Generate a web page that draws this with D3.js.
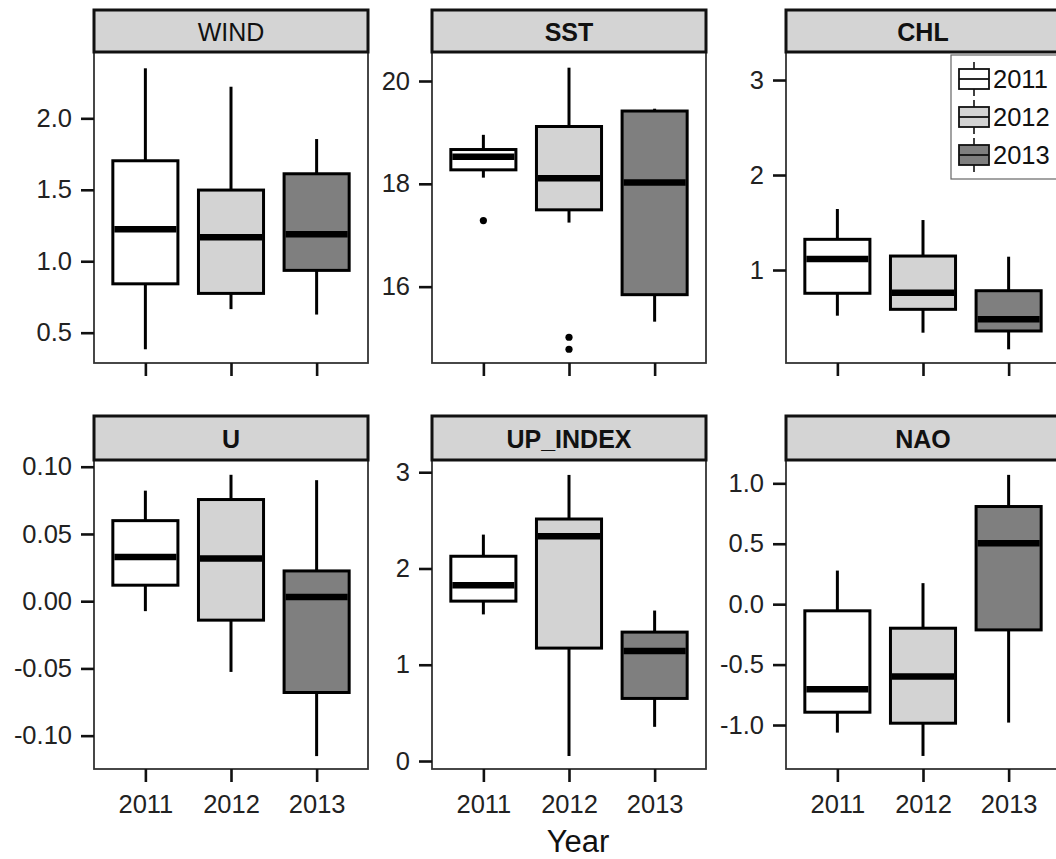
<!DOCTYPE html>
<html>
<head>
<meta charset="utf-8">
<script src="https://cdn.jsdelivr.net/npm/d3@7"></script>
<style>
  html, body { margin: 0; padding: 0; background: #fff; }
  svg { display: block; font-family: "Liberation Sans", Arial, sans-serif; }
</style>
</head>
<body>
<svg id="chart" width="1056" height="859"></svg>
<script>
// Years (groups) and variables (panels)
const years = ["2011", "2012", "2013"];
const variables = ["WIND", "SST", "CHL", "U", "UP_INDEX", "NAO"];

// Box statistics per year: [lower whisker, Q1, median, Q3, upper whisker]
const windStats = [[0.384, 0.842, 1.223, 1.703, 2.350], [0.665, 0.775, 1.167, 1.498, 2.221], [0.627, 0.936, 1.188, 1.612, 1.855]];
const sstStats  = [[18.12, 18.272, 18.525, 18.667, 18.953], [17.246, 17.494, 18.11, 19.115, 20.259], [15.319, 15.844, 18.025, 19.416, 19.461]];
const chlStats  = [[0.519, 0.755, 1.116, 1.323, 1.642], [0.340, 0.586, 0.761, 1.147, 1.526], [0.165, 0.358, 0.481, 0.782, 1.140]];
const uStats    = [[-0.0074, 0.0119, 0.0329, 0.0599, 0.0822], [-0.0526, -0.0141, 0.0317, 0.0756, 0.094], [-0.1152, -0.0679, 0.0032, 0.0225, 0.090]];
const upStats   = [[1.523, 1.661, 1.827, 2.127, 2.352], [0.052, 1.173, 2.334, 2.514, 2.972], [0.355, 0.650, 1.142, 1.339, 1.563]];
const naoStats  = [[-1.063, -0.894, -0.704, -0.055, 0.278], [-1.256, -0.985, -0.599, -0.199, 0.174], [-0.980, -0.213, 0.505, 0.808, 1.070]];

// Outlying points per year
const windOutliers = [[], [], []];
const sstOutliers  = [[17.286], [15.016, 14.782], []];
const chlOutliers  = [[], [], []];
const uOutliers    = [[], [], []];
const upOutliers   = [[], [], []];
const naoOutliers  = [[], [], []];

// Axis limits per panel
const windLimits = [0.288, 2.464];
const sstLimits  = [14.515, 20.564];
const chlLimits  = [0.021, 3.295];
const uLimits    = [-0.1248, 0.105];
const upLimits   = [-0.083, 3.127];
const naoLimits  = [-1.364, 1.193];

// Tick values per panel
const windTicks = [0.5, 1.0, 1.5, 2.0];
const sstTicks  = [16, 18, 20];
const chlTicks  = [1, 2, 3];
const uTicks    = [-0.10, -0.05, 0.00, 0.05, 0.10];
const upTicks   = [0, 1, 2, 3];
const naoTicks  = [-1.0, -0.5, 0.0, 0.5, 1.0];
const tickDecimals = [1, 0, 0, 2, 0, 1];

const statsList = [windStats, sstStats, chlStats, uStats, upStats, naoStats];
const outlierList = [windOutliers, sstOutliers, chlOutliers, uOutliers, upOutliers, naoOutliers];
const limitList = [windLimits, sstLimits, chlLimits, uLimits, upLimits, naoLimits];
const tickList = [windTicks, sstTicks, chlTicks, uTicks, upTicks, naoTicks];

const xAxisTitle = "Year";

// Layout
const svg = d3.select("#chart");
const colLeft = [94, 432, 786];
const panelW = 274;
const rows = [
  { stripTop: 10, top: 52, bottom: 363 },
  { stripTop: 416, top: 460, bottom: 769 }
];
const fill = d3.scaleOrdinal().domain(years).range(["#ffffff", "#d3d3d3", "#7f7f7f"]);
const boxUnits = 0.76;
const labelSize = 25.5;

variables.forEach((name, i) => {
  const col = i % 3, row = Math.floor(i / 3);
  const L = colLeft[col], R = L + panelW;
  const r = rows[row];
  const g = svg.append("g");

  const x = d3.scaleLinear().domain([0.4, years.length + 0.6]).range([L, R]);
  const y = d3.scaleLinear().domain(limitList[i]).range([r.bottom, r.top]);
  const dec = tickDecimals[i];

  // panel frame
  g.append("rect").attr("x", L).attr("y", r.top).attr("width", panelW).attr("height", r.bottom - r.top)
    .attr("fill", "#fff").attr("stroke", "#333").attr("stroke-width", 1.8);

  // strip
  g.append("rect").attr("x", L).attr("y", r.stripTop).attr("width", panelW).attr("height", r.top - r.stripTop)
    .attr("fill", "#d4d4d4").attr("stroke", "#111").attr("stroke-width", 3);
  g.append("text").attr("x", (L + R) / 2).attr("y", (r.stripTop + r.top) / 2 + 10)
    .attr("text-anchor", "middle").attr("font-size", 25)
    .attr("font-weight", i === 0 ? "normal" : "bold").attr("fill", "#111").text(name);

  // y axis
  const yAxis = d3.axisLeft(y).tickValues(tickList[i]).tickSize(13).tickPadding(9)
    .tickFormat(v => v.toFixed(dec));
  const ya = g.append("g").attr("transform", `translate(${L},0)`).call(yAxis);
  ya.select(".domain").remove();
  ya.selectAll(".tick line").attr("stroke", "#111").attr("stroke-width", 2.6);
  ya.selectAll(".tick text").attr("font-size", labelSize).attr("fill", "#222")
    .attr("font-family", "Liberation Sans, Arial, sans-serif");

  // x axis
  const xAxis = d3.axisBottom(x).tickValues(years.map((d, k) => k + 1)).tickSize(13).tickPadding(13)
    .tickFormat(v => row === 1 ? years[v - 1] : "");
  const xa = g.append("g").attr("transform", `translate(0,${r.bottom})`).call(xAxis);
  xa.select(".domain").remove();
  xa.selectAll(".tick line").attr("stroke", "#111").attr("stroke-width", 2.6);
  xa.selectAll(".tick text").attr("font-size", labelSize).attr("fill", "#222")
    .attr("font-family", "Liberation Sans, Arial, sans-serif");

  // boxes
  const halfW = (x(1 + boxUnits / 2) - x(1 - boxUnits / 2)) / 2;
  statsList[i].forEach((s, k) => {
    const cx = x(k + 1);
    const [lo, q1, med, q3, hi] = s;
    const bg = g.append("g");
    bg.append("line").attr("x1", cx).attr("x2", cx).attr("y1", y(hi)).attr("y2", y(q3))
      .attr("stroke", "#000").attr("stroke-width", 3);
    bg.append("line").attr("x1", cx).attr("x2", cx).attr("y1", y(q1)).attr("y2", y(lo))
      .attr("stroke", "#000").attr("stroke-width", 3);
    bg.append("rect").attr("x", cx - halfW).attr("y", y(q3)).attr("width", 2 * halfW)
      .attr("height", y(q1) - y(q3)).attr("fill", fill(years[k])).attr("stroke", "#000").attr("stroke-width", 3);
    bg.append("line").attr("x1", cx - halfW + 1.5).attr("x2", cx + halfW - 1.5).attr("y1", y(med)).attr("y2", y(med))
      .attr("stroke", "#000").attr("stroke-width", 6.5);
    outlierList[i][k].forEach(v => {
      bg.append("circle").attr("cx", cx).attr("cy", y(v)).attr("r", 3.6).attr("fill", "#000");
    });
  });

  // legend inside the CHL panel
  if (name === "CHL") {
    const lg = g.append("g");
    lg.append("rect").attr("x", 951).attr("y", 55).attr("width", 112).attr("height", 124)
      .attr("fill", "#fff").attr("stroke", "#666").attr("stroke-width", 1.2);
    years.forEach((yr, k) => {
      const cy = 79 + k * 38;
      lg.append("line").attr("x1", 974).attr("x2", 974).attr("y1", cy - 17).attr("y2", cy + 17)
        .attr("stroke", "#111").attr("stroke-width", 1.6);
      lg.append("rect").attr("x", 959).attr("y", cy - 10).attr("width", 30).attr("height", 20)
        .attr("fill", fill(yr)).attr("stroke", "#111").attr("stroke-width", 1.8);
      lg.append("line").attr("x1", 959).attr("x2", 989).attr("y1", cy).attr("y2", cy)
        .attr("stroke", "#111").attr("stroke-width", 1.8);
      lg.append("text").attr("x", 993).attr("y", cy + 9).attr("font-size", 25.5).attr("fill", "#111").text(yr);
    });
  }
});

// shared x axis title
svg.append("text").attr("x", 578).attr("y", 852).attr("text-anchor", "middle")
  .attr("font-size", 31).attr("fill", "#111").text(xAxisTitle);
</script>
</body>
</html>
